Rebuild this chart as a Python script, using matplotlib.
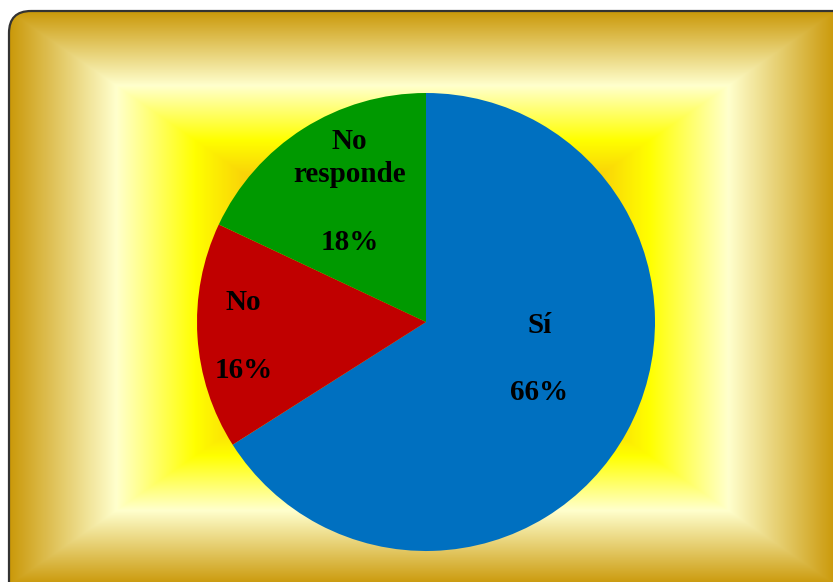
import textwrap
import numpy as np
import matplotlib
matplotlib.use("Agg")
import matplotlib.pyplot as plt
from matplotlib.patches import FancyBboxPatch

# ---- data ----
categories = ["Sí", "No", "No responde"]
values = [66, 16, 18]
colors = ["#0070C0", "#C00000", "#009900"]

# ---- figure ----
W, H = 833, 582
fig = plt.figure(figsize=(W / 100, H / 100), dpi=100)
fig.patch.set_facecolor("white")

# background frame with rectangular gradient
bg = fig.add_axes([0, 0, 1, 1])
bg.axis("off")

x0, y0, x1, y1 = 9, 11, 836, 585
cx, cy = (x0 + x1) / 2, (y0 + y1) / 2
hw, hh = (x1 - x0) / 2, (y1 - y0) / 2
xs = np.arange(W) + 0.5
ys = np.arange(H) + 0.5
XX, YY = np.meshgrid(xs, ys)
t = np.maximum(np.abs(XX - cx) / hw, np.abs(YY - cy) / hh)
t = np.clip(t, 0, 1)
stops = [0.0, 0.40, 0.55, 0.74, 1.0]
stop_cols = np.array([
    (240, 165, 0),
    (248, 200, 10),
    (255, 255, 0),
    (255, 255, 205),
    (202, 152, 8),
]) / 255.0
img = np.zeros((H, W, 3))
for c in range(3):
    img[..., c] = np.interp(t, stops, stop_cols[:, c])
frame = FancyBboxPatch((x0, y0), 860 - x0, 610 - y0,
                       boxstyle="round,pad=0,rounding_size=22",
                       facecolor="none", edgecolor="#333333", linewidth=1.6,
                       zorder=3)
bg.add_patch(frame)
im = bg.imshow(img, extent=(0, W, H, 0), interpolation="bilinear",
               aspect="auto", zorder=1)
im.set_clip_path(frame)
bg.set_xlim(0, W)
bg.set_ylim(H, 0)

# pie
pcx, pcy, r = 426, 322, 229
ax = fig.add_axes([(pcx - r) / W, (H - pcy - r) / H, 2 * r / W, 2 * r / H])
ax.set_facecolor("none")
wedges, _ = ax.pie(values, colors=colors, startangle=90, counterclock=False,
                   radius=1.0, wedgeprops=dict(linewidth=0))
ax.set_xlim(-1, 1)
ax.set_ylim(-1, 1)
ax.set_aspect("equal")
ax.axis("off")

label_r = [0.52, 0.80, 0.66]
label_dang = [10.8, 1.0, -2.0]
total = sum(values)
for w, cat, v, rr, da in zip(wedges, categories, values, label_r, label_dang):
    ang = np.deg2rad((w.theta1 + w.theta2) / 2 + da)
    txt = "\n".join(textwrap.wrap(cat, 8)) + f"\n\n{round(100 * v / total)}%"
    ax.text(rr * np.cos(ang), rr * np.sin(ang), txt, ha="center", va="center",
            fontsize=21, fontweight="bold", family=["Liberation Serif"],
            linespacing=1.32, color="black")

fig.savefig("out.png", dpi=100)
